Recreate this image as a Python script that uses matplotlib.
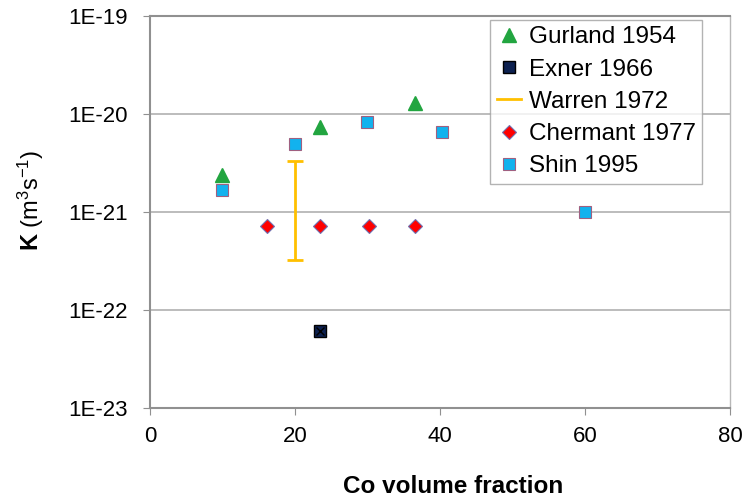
import matplotlib
matplotlib.use("Agg")
import matplotlib.pyplot as plt
from matplotlib.ticker import FixedLocator, NullLocator

plt.rcParams['font.family'] = ['Liberation Sans', 'DejaVu Sans']
plt.rcParams['mathtext.fontset'] = 'custom'
plt.rcParams['mathtext.rm'] = 'Liberation Sans'
plt.rcParams['mathtext.it'] = 'Liberation Sans:italic'
plt.rcParams['mathtext.bf'] = 'Liberation Sans:bold'

# data (x = Co volume fraction, y = K in m^3/s)
gurland_x = [10, 23.5, 36.6]
gurland_y = [2.4e-21, 7.4e-21, 1.3e-20]

exner_x = [23.5]
exner_y = [6.1e-23]

warren_x = [20]
warren_lo = [3.2e-22]
warren_hi = [3.3e-21]

chermant_x = [16.2, 23.5, 30.2, 36.6]
chermant_y = [7.2e-22, 7.2e-22, 7.2e-22, 7.2e-22]

shin_x = [10, 20, 30, 40.3, 60]
shin_y = [1.67e-21, 4.9e-21, 8.3e-21, 6.6e-21, 1.0e-21]

yticks = [1e-23, 1e-22, 1e-21, 1e-20, 1e-19]
ytick_labels = ['1E-23', '1E-22', '1E-21', '1E-20', '1E-19']
xticks = [0, 20, 40, 60, 80]

fig = plt.figure(figsize=(7.42, 5.0), dpi=100)
ax = fig.add_axes([0.202, 0.184, 0.7817, 0.784])

ax.plot(gurland_x, gurland_y, linestyle='none', marker='^', markersize=10,
        color='#22A540', markeredgecolor='#22A540', label='Gurland 1954')
ax.plot(exner_x, exner_y, linestyle='none', marker='s', markersize=8,
        color='#0D2150', markeredgecolor='#000000', label='Exner 1966')
ax.plot(exner_x, exner_y, linestyle='none', marker='x', markersize=6,
        color='#000000', markeredgewidth=1)
# Warren range drawn as an error bar
wmid = [(lo * hi) ** 0.5 for lo, hi in zip(warren_lo, warren_hi)]
ax.errorbar(warren_x, wmid,
            yerr=[[m - lo for m, lo in zip(wmid, warren_lo)],
                  [hi - m for m, hi in zip(wmid, warren_hi)]],
            fmt='none', ecolor='#FFC000', elinewidth=2, capsize=6, capthick=2)
ax.plot([], [], color='#FFC000', linewidth=2, label='Warren 1972')
ax.plot(chermant_x, chermant_y, linestyle='none', marker='D', markersize=7,
        color='#FF0000', markeredgecolor='#7070B0', markeredgewidth=0.8,
        label='Chermant 1977')
ax.plot(shin_x, shin_y, linestyle='none', marker='s', markersize=8,
        color='#12B2EE', markeredgecolor='#A06080', markeredgewidth=0.8,
        label='Shin 1995')

ax.set_yscale('log')
ax.set_ylim(1e-23, 1e-19)
ax.set_xlim(0, 80)
ax.yaxis.set_major_locator(FixedLocator(yticks))
ax.yaxis.set_minor_locator(NullLocator())
ax.set_yticks(yticks, ytick_labels)
ax.set_xticks(xticks)

ax.grid(axis='y', color='#B0B0B0', linewidth=1.2)
ax.set_axisbelow(True)
for side in ['left', 'bottom', 'top']:
    ax.spines[side].set_color('#909090')
    ax.spines[side].set_linewidth(1.5)
ax.spines['right'].set_color('#B8B8B8')
ax.spines['right'].set_linewidth(1.0)
ax.tick_params(axis='both', direction='out', length=5, color='#909090',
               labelsize=16)
ax.tick_params(axis='y', pad=11)
ax.tick_params(axis='x', pad=8)

ax.set_xlabel('Co volume fraction', fontsize=17.5, fontweight='bold',
              labelpad=20, x=0.522)
ax.set_ylabel(r'$\mathbf{K}$ (m$^{3}$s$^{-1}$)', fontsize=17, labelpad=16,
              y=0.53)

leg = ax.legend(loc='upper right', bbox_to_anchor=(0.952, 0.99), fontsize=17.5,
                frameon=True, fancybox=False, edgecolor='#A0A0A0',
                handlelength=1.0, handletextpad=0.3, labelspacing=0.42,
                borderpad=0.27, borderaxespad=0.0)
leg.get_frame().set_linewidth(1.0)

fig.savefig('out.png', dpi=100)
